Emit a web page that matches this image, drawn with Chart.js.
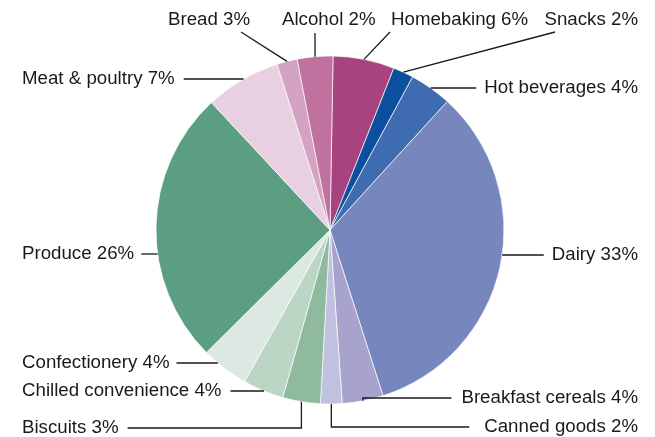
<!DOCTYPE html>
<html>
<head>
<meta charset="utf-8">
<script src="https://cdn.jsdelivr.net/npm/chart.js@4.4.0/dist/chart.umd.min.js"></script>
<style>
  html, body { margin: 0; padding: 0; background: #fff; }
  #wrap { width: 655px; height: 437px; }
</style>
</head>
<body>
<div id="wrap"><canvas id="basket"></canvas></div>
<script>
// categories clockwise from 12 o'clock
var categories = ["Homebaking", "Snacks", "Hot beverages", "Dairy", "Breakfast cereals", "Canned goods",
  "Biscuits", "Chilled convenience", "Confectionery", "Produce", "Meat & poultry", "Bread", "Alcohol"];
// slice sizes
var shares = [5.7, 1.9, 3.9, 33.3, 3.8, 2.0, 3.5, 3.8, 4.4, 25.5, 7.0, 1.9, 3.3];
// percentages as printed on the labels
var printed = [6, 2, 4, 33, 4, 2, 3, 4, 4, 26, 7, 3, 2];

var colours = ["#a8437f", "#0b4f9e", "#3f6bb0", "#7886be", "#a8a3cc", "#c0c0e0",
  "#8fba9e", "#bcd6c6", "#dce9e2", "#5c9e82", "#e8d0e2", "#d4a3c3", "#c0719e"];

// label layout: text anchor + leader style
// h = horizontal at text y to the rim, v = down from slice middle then across, d = straight to (ex, ey)
var labelPos = [
  { x: 391, y: 20, align: "left", kind: "d", ex: 390, ey: 32 },
  { x: 638, y: 20, align: "right", kind: "d", ex: 555, ey: 32 },
  { x: 638, y: 88, align: "right", kind: "h", gap: 8 },
  { x: 638, y: 255, align: "right", kind: "h", gap: 8 },
  { x: 638, y: 398, align: "right", kind: "v", gap: 10 },
  { x: 638, y: 427, align: "right", kind: "v", gap: 15 },
  { x: 22, y: 428, align: "left", kind: "v", gap: 9 },
  { x: 22, y: 391, align: "left", kind: "h", gap: 9 },
  { x: 22, y: 363, align: "left", kind: "h", gap: 7 },
  { x: 22, y: 254, align: "left", kind: "h", gap: 7 },
  { x: 22, y: 79, align: "left", kind: "h", gap: 9 },
  { x: 168, y: 20, align: "left", kind: "d", ex: 241, ey: 32 },
  { x: 282, y: 20, align: "left", kind: "d", ex: null, ey: 33 }
];

var labelFont = '18.7px "Liberation Sans", Arial, sans-serif';

var leaderLabels = {
  id: "leaderLabels",
  afterDraw: function(chart) {
    var ctx = chart.ctx;
    var arcs = chart.getDatasetMeta(0).data;
    ctx.save();
    ctx.font = labelFont;
    ctx.fillStyle = "#1a1a1a";
    ctx.strokeStyle = "#1a1a1a";
    ctx.lineWidth = 1.3;
    ctx.textBaseline = "middle";
    arcs.forEach(function(arc, i) {
      var p = labelPos[i];
      var text = categories[i] + " " + printed[i] + "%";
      var w = ctx.measureText(text).width;
      var cx = arc.x, cy = arc.y, R = arc.outerRadius;
      var mid = (arc.startAngle + arc.endAngle) / 2;
      var rx = cx + R * Math.cos(mid), ry = cy + R * Math.sin(mid);
      var textEdge = p.align === "left" ? p.x + w + p.gap : p.x - w - p.gap;

      ctx.beginPath();
      if (p.kind === "h") {
        var dy = p.y - cy;
        var half = Math.sqrt(Math.max(R * R - dy * dy, 0));
        var edgeX = p.align === "left" ? cx - half : cx + half;
        ctx.moveTo(textEdge, p.y);
        ctx.lineTo(edgeX, p.y);
      } else if (p.kind === "v") {
        ctx.moveTo(rx, ry);
        ctx.lineTo(rx, p.y);
        ctx.lineTo(textEdge, p.y);
      } else {
        ctx.moveTo(rx, ry);
        ctx.lineTo(p.ex === null ? rx : p.ex, p.ey);
      }
      ctx.stroke();

      ctx.textAlign = p.align;
      ctx.fillText(text, p.x, p.y);
    });
    ctx.restore();
  }
};

var ctx = document.getElementById("basket").getContext("2d");
var myChart = new Chart(ctx, {
  type: "pie",
  plugins: [leaderLabels],
  data: {
    labels: categories,
    datasets: [{
      data: shares,
      backgroundColor: colours,
      borderColor: "rgba(255,255,255,0.85)",
      borderWidth: 0.8,
      radius: 174
    }]
  },
  options: {
    responsive: true,
    maintainAspectRatio: false,
    animation: false,
    rotation: 1,
    layout: { padding: { left: 5, right: 0, top: 23, bottom: 0 } },
    plugins: {
      legend: { display: false },
      tooltip: { enabled: false }
    }
  }
});
</script>
</body>
</html>
